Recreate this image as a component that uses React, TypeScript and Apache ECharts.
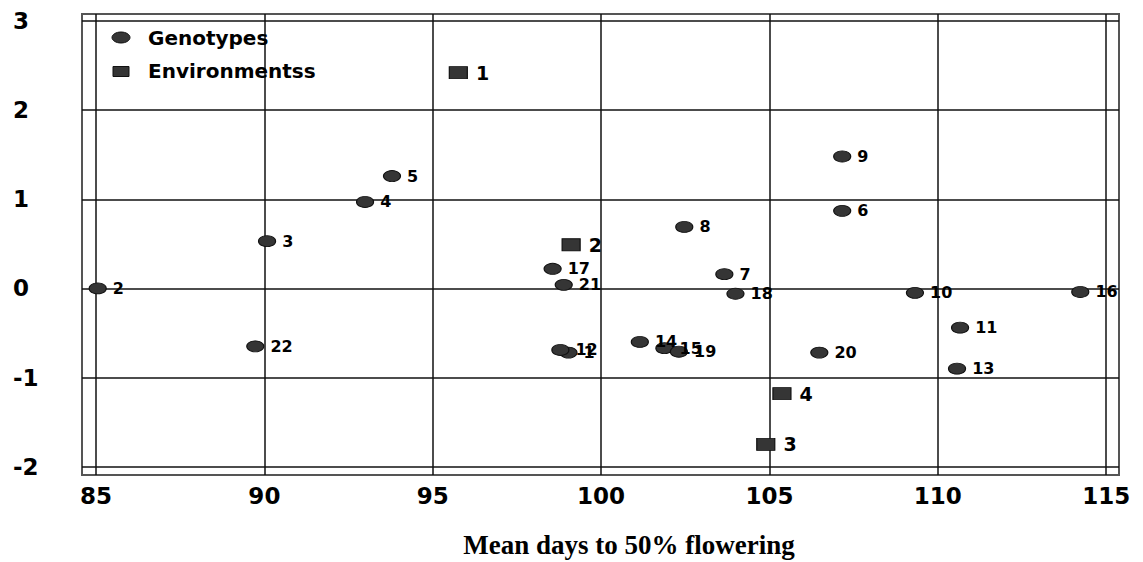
import React, { useEffect, useRef } from "react";
import * as echarts from "echarts";

// ---- Data ----
const genotypeIds = ["1","2","3","4","5","6","7","8","9","10","11","12","13","14","15","16","17","18","19","20","21","22"];
const genotypeDays = [99.03, 85.05, 90.08, 92.99, 93.79, 107.16, 103.66, 102.47, 107.16, 109.32, 110.66, 98.79, 110.57, 101.15, 101.88, 114.23, 98.56, 103.99, 102.31, 106.48, 98.89, 89.73];
const genotypeScores = [-0.72, 0.0, 0.53, 0.97, 1.26, 0.87, 0.16, 0.69, 1.48, -0.05, -0.44, -0.69, -0.9, -0.6, -0.67, -0.04, 0.22, -0.06, -0.71, -0.72, 0.04, -0.65];

const envIds = ["1", "2", "3", "4"];
const envDays = [95.76, 99.11, 104.89, 105.37];
const envScores = [2.42, 0.49, -1.75, -1.18];

const xTicks = [85, 90, 95, 100, 105, 110, 115];
const yTicks = [-2, -1, 0, 1, 2, 3];
const seriesNames = ["Genotypes", "Environmentss"];
const xTitle = "Mean days to 50% flowering";

const X_MIN = 84.584;
const X_MAX = 115.38;
const Y_MIN = -2.093;
const Y_MAX = 3.078;

const SANS = '"DejaVu Sans", sans-serif';
const MARK_FILL = "#353535";
const MARK_EDGE = "#111111";

export default function App() {
  const ref = useRef<HTMLDivElement>(null);

  useEffect(() => {
    if (!ref.current) return;
    const chart = echarts.init(ref.current, undefined, { renderer: "svg" });

    const genoData = genotypeIds.map((id, i) => [genotypeDays[i], genotypeScores[i], id]);
    const envData = envIds.map((id, i) => [envDays[i], envScores[i], id]);

    const isTick = (list: number[]) => (v: number) =>
      list.some((t) => Math.abs(t - v) < 1e-6) ? String(Math.round(v)) : "";

    chart.setOption({
      animation: false,
      backgroundColor: "#ffffff",
      grid: {
        left: 82,
        right: 24,
        top: 14,
        bottom: 87,
        show: true,
        borderColor: "#555555",
        borderWidth: 2,
        backgroundColor: "transparent",
      },
      xAxis: {
        type: "value",
        min: X_MIN,
        max: X_MAX,
        splitNumber: 6,
        axisLine: { show: false },
        axisTick: { show: false },
        axisLabel: {
          margin: 9,
          fontSize: 23,
          fontWeight: "bold",
          fontFamily: SANS,
          color: "#000000",
          formatter: isTick(xTicks),
        },
        splitLine: {
          show: true,
          showMinLine: false,
          showMaxLine: false,
          lineStyle: { color: "#111111", width: 1.5 },
        },
      },
      yAxis: {
        type: "value",
        min: Y_MIN,
        max: Y_MAX,
        splitNumber: 5,
        axisLine: { show: false },
        axisTick: { show: false },
        axisLabel: {
          margin: 69,
          align: "left",
          fontSize: 23,
          fontWeight: "bold",
          fontFamily: SANS,
          color: "#000000",
          formatter: isTick(yTicks),
        },
        splitLine: {
          show: true,
          showMinLine: false,
          showMaxLine: false,
          lineStyle: { color: "#111111", width: 1.5 },
        },
      },
      series: [
        {
          name: seriesNames[0],
          type: "scatter",
          symbol: "circle",
          symbolSize: [17, 11],
          data: genoData,
          itemStyle: { color: MARK_FILL, borderColor: MARK_EDGE, borderWidth: 1, opacity: 1 },
          label: {
            show: true,
            position: "right",
            distance: 6,
            formatter: (p: any) => p.data[2],
            fontSize: 16,
            fontWeight: "bold",
            fontFamily: SANS,
            color: "#000000",
          },
        },
        {
          name: seriesNames[1],
          type: "scatter",
          symbol: "rect",
          symbolSize: [18, 12],
          data: envData,
          itemStyle: { color: MARK_FILL, borderColor: MARK_EDGE, borderWidth: 1, opacity: 1 },
          label: {
            show: true,
            position: "right",
            distance: 8,
            formatter: (p: any) => p.data[2],
            fontSize: 19,
            fontWeight: "bold",
            fontFamily: SANS,
            color: "#000000",
          },
        },
      ],
      graphic: [
        {
          type: "ellipse",
          shape: { cx: 121, cy: 37.5, rx: 9, ry: 5.5 },
          style: { fill: MARK_FILL, stroke: MARK_EDGE, lineWidth: 1 },
          z: 100,
        },
        {
          type: "text",
          x: 148,
          y: 38,
          style: {
            text: seriesNames[0],
            fill: "#000000",
            font: 'bold 20px "DejaVu Sans", sans-serif',
            align: "left",
            verticalAlign: "middle",
          },
          z: 100,
        },
        {
          type: "rect",
          shape: { x: 113, y: 66.5, width: 16, height: 10 },
          style: { fill: MARK_FILL, stroke: MARK_EDGE, lineWidth: 1 },
          z: 100,
        },
        {
          type: "text",
          x: 148,
          y: 71,
          style: {
            text: seriesNames[1],
            fill: "#000000",
            font: 'bold 20px "DejaVu Sans", sans-serif',
            align: "left",
            verticalAlign: "middle",
          },
          z: 100,
        },
        {
          type: "text",
          x: 629,
          y: 545,
          style: {
            text: xTitle,
            fill: "#000000",
            font: 'bold 27px "Liberation Serif", serif',
            align: "center",
            verticalAlign: "middle",
          },
        },
      ],
    });

    return () => chart.dispose();
  }, []);

  return (
    <div
      ref={ref}
      style={{ position: "fixed", left: 0, top: 0, width: 1143, height: 562, background: "#fff" }}
    />
  );
}
